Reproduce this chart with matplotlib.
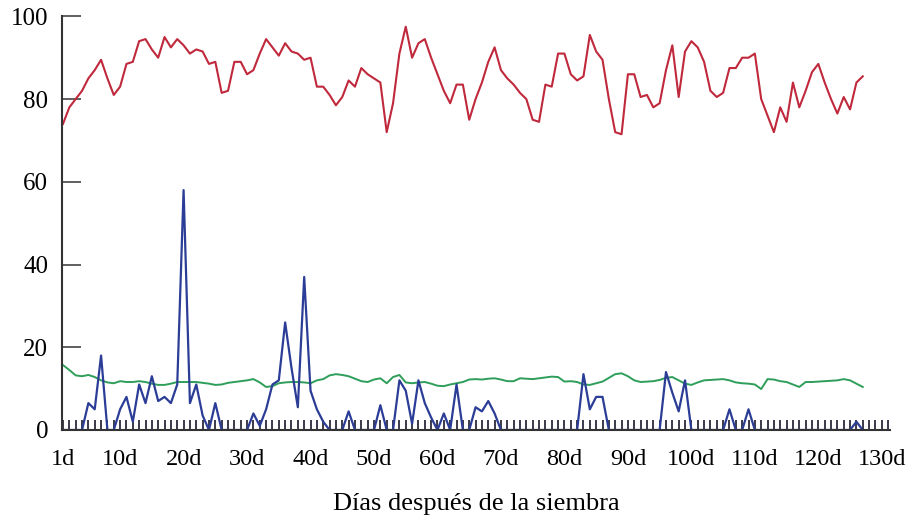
import matplotlib
matplotlib.use("Agg")
import matplotlib.pyplot as plt
from matplotlib.ticker import FixedLocator, MultipleLocator

plt.rcParams["font.family"] = ["Liberation Serif", "DejaVu Serif"]

# daily values, day 1 .. day 127
red_vals = [
    74, 78, 80, 82, 85, 87, 89.5, 85, 81, 83,
    88.5, 89, 94, 94.5, 92, 90, 95, 92.5, 94.5, 93,
    91, 92, 91.5, 88.5, 89, 81.5, 82, 89, 89, 86,
    87, 91, 94.5, 92.5, 90.5, 93.5, 91.5, 91, 89.5, 90,
    83, 83, 81, 78.5, 80.5, 84.5, 83, 87.5, 86, 85,
    84, 72, 79, 91, 97.5, 90, 93.5, 94.5, 90, 86,
    82, 79, 83.5, 83.5, 75, 80, 84, 89, 92.5, 87,
    85, 83.5, 81.5, 80, 75, 74.5, 83.5, 83, 91, 91,
    86, 84.5, 85.5, 95.5, 91.5, 89.5, 80, 72, 71.5, 86,
    86, 80.5, 81, 78, 79, 87, 93, 80.5, 91.5, 94,
    92.5, 89, 82, 80.5, 81.5, 87.5, 87.5, 90, 90, 91,
    80, 76, 72, 78, 74.5, 84, 78, 82, 86.5, 88.5,
    84, 80, 76.5, 80.5, 77.5, 84, 85.5,
]

green_vals = [
    15.7, 14.5, 13.2, 13.0, 13.3, 12.8, 12.0, 11.5, 11.3, 11.8,
    11.6, 11.6, 11.8, 11.6, 11.2, 10.9, 10.9, 11.2, 11.6, 11.6,
    11.6, 11.6, 11.4, 11.2, 10.9, 11.0, 11.4, 11.6, 11.8, 12.0,
    12.3, 11.5, 10.4, 10.6, 11.3, 11.5, 11.6, 11.6, 11.5, 11.3,
    12.0, 12.3, 13.2, 13.5, 13.3, 13.0, 12.4, 11.8, 11.6, 12.2,
    12.5, 11.3, 12.8, 13.3, 11.5, 11.3, 11.5, 11.6, 11.2, 10.7,
    10.6, 11.0, 11.3, 11.6, 12.2, 12.3, 12.2, 12.4, 12.5, 12.2,
    11.8, 11.8, 12.5, 12.4, 12.3, 12.5, 12.7, 12.9, 12.8, 11.7,
    11.8, 11.6, 11.0, 10.9, 11.3, 11.7, 12.6, 13.5, 13.7, 13.0,
    12.0, 11.6, 11.7, 11.8, 12.1, 12.6, 12.8, 12.0, 11.2, 10.9,
    11.5, 12.0, 12.1, 12.2, 12.3, 12.0, 11.5, 11.3, 11.2, 11.0,
    9.9, 12.3, 12.2, 11.8, 11.6, 11.0, 10.4, 11.6, 11.6, 11.7,
    11.8, 11.9, 12.0, 12.3, 12.0, 11.2, 10.4,
]

blue_vals = [
    0, 0, 0, 0, 6.5, 5, 18, 0, 0, 5,
    8, 2, 11, 6.5, 13, 7, 8, 6.5, 11, 58,
    6.5, 11, 3.5, 0, 6.5, 0, 0, 0, 0, 0,
    4, 1, 5, 11, 12, 26, 15, 5.5, 37, 9.5,
    5, 2, 0, 0, 0, 4.5, 0, 0, 0, 0,
    6, 0, 0, 12, 9.5, 1.5, 12, 6.5, 3, 0,
    4, 0, 11, 0, 0, 5.5, 4.5, 7, 4, 0,
    0, 0, 0, 0, 0, 0, 0, 0, 0, 0,
    0, 0, 13.5, 5, 8, 8, 0, 0, 0, 0,
    0, 0, 0, 0, 0, 14, 9, 4.5, 12, 0,
    0, 0, 0, 0, 0, 5, 0, 0, 5, 0,
    0, 0, 0, 0, 0, 0, 0, 0, 0, 0,
    0, 0, 0, 0, 0, 2, 0,
]

days = list(range(1, len(red_vals) + 1))
x_ticks = [1, 10, 20, 30, 40, 50, 60, 70, 80, 90, 100, 110, 120, 130]
x_tick_labels = [f"{d}d" for d in x_ticks]
y_ticks = [0, 20, 40, 60, 80, 100]

fig = plt.figure(figsize=(9.14, 5.19), dpi=100)
ax = fig.add_axes([0.0678, 0.1715, 0.906, 0.797])

ax.plot(days, red_vals, color="#c0283c", lw=1.5)
ax.plot(days, green_vals, color="#2e9e5a", lw=1.4)
ax.plot(days, blue_vals, color="#2b3d96", lw=1.6)

ax.set_xlim(0.84, 131.3)
ax.set_ylim(0, 100)

ax.xaxis.set_major_locator(FixedLocator(x_ticks))
ax.set_xticklabels(x_tick_labels)
ax.xaxis.set_minor_locator(MultipleLocator(1))
ax.set_yticks(y_ticks)

ax.tick_params(axis="x", which="both", direction="in", length=7, width=1.4,
               color="#3a3a4a", labelsize=17.5, pad=14)
ax.tick_params(axis="y", which="major", direction="in", length=14, width=1.2,
               color="#444444", labelsize=18, pad=10)

for side in ("top", "right"):
    ax.spines[side].set_visible(False)
for side in ("left", "bottom"):
    ax.spines[side].set_color("#333333")
    ax.spines[side].set_linewidth(1.5)

ax.set_xlabel("Días después de la siembra", fontsize=19, labelpad=16)

fig.savefig("out.png", dpi=100)
